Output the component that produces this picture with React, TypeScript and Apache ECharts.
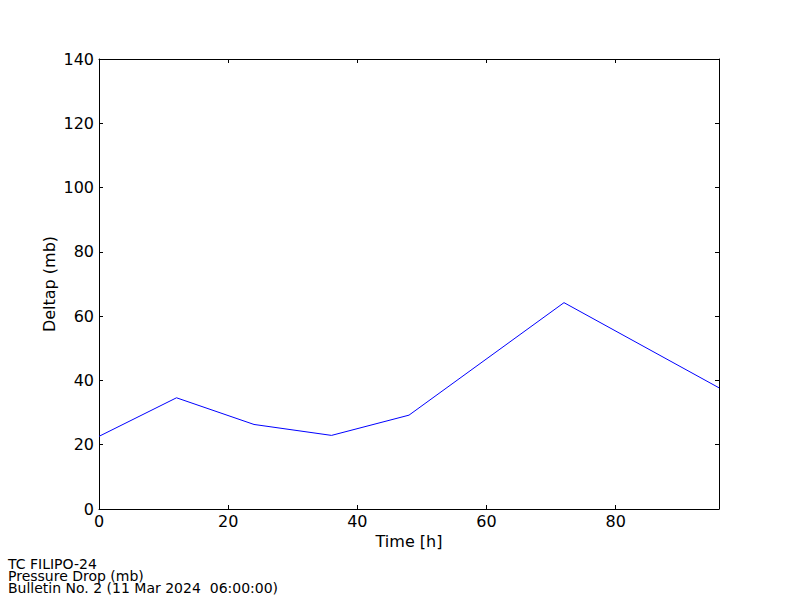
import React, { useEffect, useRef } from "react";
import * as echarts from "echarts";

const hours = [0, 12, 24, 36, 48, 72, 96];
const deltap = [22.6, 34.6, 26.3, 22.9, 29.2, 64.2, 37.7];
const footerLines = ["TC FILIPO-24", "Pressure Drop (mb)", "Bulletin No. 2 (11 Mar 2024  06:00:00)"];

const FONT = "DejaVu Sans";

export default function App() {
  const ref = useRef<HTMLDivElement>(null);
  useEffect(() => {
    if (!ref.current) return;
    const chart = echarts.init(ref.current, undefined, { renderer: "svg" });
    const axisCommon = {
      axisLine: { show: true, onZero: false, lineStyle: { color: "#000", width: 1 } },
      axisTick: { show: true, inside: true, length: 4, lineStyle: { color: "#000" } },
      splitLine: { show: false },
    };
    chart.setOption({
      animation: false,
      backgroundColor: "#fff",
      grid: { left: 99, top: 59, right: 81, bottom: 91, containLabel: false },
      xAxis: [
        {
          type: "value",
          min: 0,
          max: 96,
          interval: 20,
          position: "bottom",
          name: "Time [h]",
          nameLocation: "middle",
          nameGap: 24,
          nameMoveOverlap: false,
          nameTextStyle: { fontFamily: FONT, fontSize: 16, color: "#000" },
          axisLabel: { fontFamily: FONT, fontSize: 16, color: "#000", margin: 4, showMaxLabel: false },
          ...axisCommon,
        },
        {
          type: "value",
          min: 0,
          max: 96,
          interval: 20,
          position: "top",
          axisLabel: { show: false },
          ...axisCommon,
        },
      ],
      yAxis: [
        {
          type: "value",
          min: 0,
          max: 140,
          interval: 20,
          position: "left",
          name: "Deltap (mb)",
          nameLocation: "middle",
          nameGap: 42,
          nameMoveOverlap: false,
          nameTextStyle: { fontFamily: FONT, fontSize: 16, color: "#000" },
          axisLabel: { fontFamily: FONT, fontSize: 16, color: "#000", margin: 5 },
          ...axisCommon,
        },
        {
          type: "value",
          min: 0,
          max: 140,
          interval: 20,
          position: "right",
          axisLabel: { show: false },
          ...axisCommon,
        },
      ],
      series: [
        {
          type: "line",
          data: hours.map((h, i) => [h, deltap[i]]),
          symbol: "none",
          lineStyle: { color: "#0000ff", width: 1 },
          clip: true,
        },
      ],
      graphic: [
        {
          type: "text",
          x: 8,
          y: 558,
          style: {
            text: footerLines.join("\n"),
            fontFamily: FONT,
            fontSize: 14,
            lineHeight: 12,
            fill: "#000",
            verticalAlign: "top",
          },
        },
      ],
    });
    return () => chart.dispose();
  }, []);
  return <div ref={ref} style={{ width: 800, height: 600, position: "absolute", left: 0, top: 0 }} />;
}
